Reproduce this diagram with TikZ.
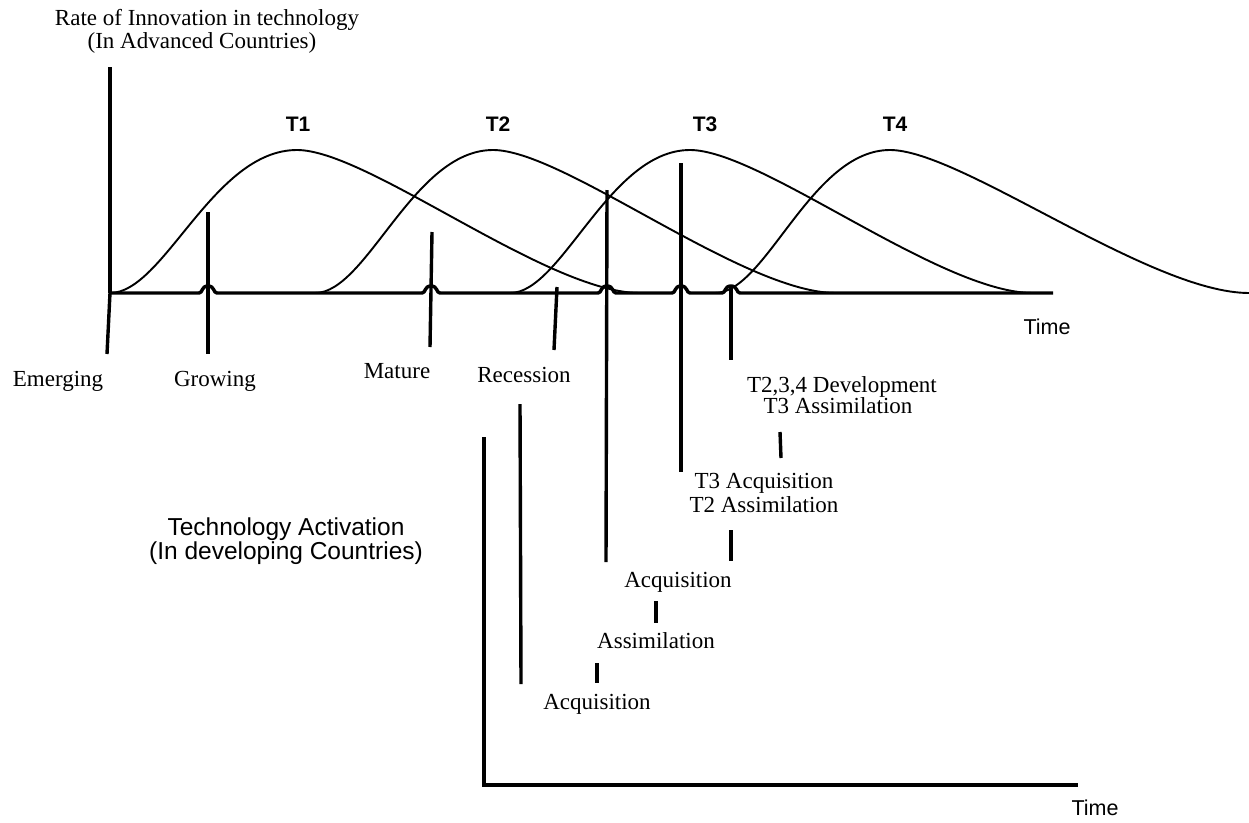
\documentclass[tikz,border=0pt]{standalone}
\usepackage{fontspec}
\setmainfont{Liberation Serif}
\setsansfont{Liberation Sans}
\begin{document}
\begin{tikzpicture}[x=1pt,y=-1pt,
  axisline/.style={line width=3.4pt},
  pointer/.style={line width=3.4pt},
  wave/.style={line width=1.9pt},
  lbl/.style={font=\fontsize{23}{27}\selectfont, inner sep=0pt, anchor=base},
  slbl/.style={font=\sffamily\fontsize{21.5}{25}\selectfont, inner sep=0pt, anchor=base},
  biglbl/.style={font=\sffamily\fontsize{24.5}{28}\selectfont, inner sep=0pt, anchor=base},
  tlbl/.style={font=\sffamily\bfseries\fontsize{21}{24}\selectfont, inner sep=0pt, anchor=base}]
\useasboundingbox (0,0) rectangle (1249,822);

% ---------- upper chart: axes ----------
\coordinate (ytop) at (110,67);
\coordinate (origin) at (110,293);
\coordinate (xend) at (1053,293);
\draw[axisline] (ytop) -- (origin);
% time axis with small hops where the pointer lines cross it
\draw[axisline] (origin)
  -- (199,293) .. controls (203,293) and (201,286) .. (208,286) .. controls (215,286) and (213,293) .. (217,293)
  -- (422,293) .. controls (426,293) and (424,286) .. (431,286) .. controls (438,286) and (436,293) .. (440,293)
  -- (598,293) .. controls (602,293) and (600,286) .. (607,286) .. controls (614,286) and (612,293) .. (616,293)
  -- (672,293) .. controls (676,293) and (674,286) .. (681,286) .. controls (688,286) and (686,293) .. (690,293)
  -- (722,293) .. controls (726,293) and (724,286) .. (731,286) .. controls (738,286) and (736,293) .. (740,293)
  -- (xend);

% ---------- technology life cycles ----------
\draw[wave] (origin) .. controls (164,293) and (213,150) .. (297,150)
  .. controls (368,150) and (547,293) .. (640,293);
\draw[wave] (315,293) .. controls (367,293) and (413,150) .. (493,150)
  .. controls (564,150) and (743,293) .. (836,293);
\draw[wave] (510,293) .. controls (562,293) and (609,150) .. (690,150)
  .. controls (761,150) and (940,293) .. (1033,293);
\draw[wave] (715,293) .. controls (766,293) and (811,150) .. (890,150)
  .. controls (961,150) and (1150,293) .. (1249,293);

\node[tlbl] (t1) at (298,131) {T1};
\node[tlbl] (t2) at (498,131) {T2};
\node[tlbl] (t3) at (705,131) {T3};
\node[tlbl] (t4) at (895,131) {T4};

% ---------- axis titles ----------
\node[lbl] (rate1) at (207,25) {Rate of Innovation in technology};
\node[lbl] (rate2) at (202,48) {(In Advanced Countries)};
\node[slbl] (time1) at (1047,334) {Time};

% ---------- stage labels and their pointers ----------
\node[lbl] (emerging) at (58,386) {Emerging};
\node[lbl] (growing) at (215,386) {Growing};
\node[lbl] (mature) at (397,378) {Mature};
\node[lbl] (recession) at (524,382) {Recession};

\coordinate (pe) at (107,354);
\draw[pointer] (origin) -- (pe);
\coordinate (pg1) at (208,212); \coordinate (pg2) at (208,354);
\draw[pointer] (pg1) -- (pg2);
\coordinate (pm1) at (432,232); \coordinate (pm2) at (430,347);
\draw[pointer] (pm1) -- (pm2);
\coordinate (pr1) at (557,287); \coordinate (pr2) at (554,350);
\draw[pointer] (pr1) -- (pr2);

% long drop lines from the curves to the lower chart
\coordinate (da1) at (607,190); \coordinate (da2) at (606,562);
\draw[pointer] (da1) -- (da2);
\coordinate (db1) at (681,163); \coordinate (db2) at (681,472);
\draw[pointer] (db1) -- (db2);
\coordinate (dc1) at (731,286); \coordinate (dc2) at (731,360);
\draw[pointer] (dc1) -- (dc2);
\coordinate (dd1) at (520,404); \coordinate (dd2) at (521,684);
\draw[pointer] (dd1) -- (dd2);

% ---------- lower chart ----------
\coordinate (ltop) at (484,437);
\coordinate (lorigin) at (484,785);
\coordinate (lend) at (1078,785);
\draw[axisline] (ltop) -- (lorigin) -- (lend);
\node[slbl] (time2) at (1095,815) {Time};
\node[biglbl] (act1) at (286,535) {Technology Activation};
\node[biglbl] (act2) at (286,559) {(In developing Countries)};

% activation steps
\node[lbl] (dev1) at (842,392) {T2,3,4 Development};
\node[lbl] (dev2) at (838,413) {T3 Assimilation};
\node[lbl] (acq3) at (764,488) {T3 Acquisition};
\node[lbl] (asm2) at (764,512) {T2 Assimilation};
\node[lbl] (acq2) at (678,587) {Acquisition};
\node[lbl] (asm1) at (656,648) {Assimilation};
\node[lbl] (acq1) at (597,709) {Acquisition};

\coordinate (k1a) at (780,432); \coordinate (k1b) at (781,458);
\draw[pointer] (k1a) -- (k1b);
\coordinate (k2a) at (731,530); \coordinate (k2b) at (731,561);
\draw[pointer] (k2a) -- (k2b);
\coordinate (k3a) at (656,601); \coordinate (k3b) at (656,623);
\draw[pointer] (k3a) -- (k3b);
\coordinate (k4a) at (597,663); \coordinate (k4b) at (597,683);
\draw[pointer] (k4a) -- (k4b);
\end{tikzpicture}
\end{document}
